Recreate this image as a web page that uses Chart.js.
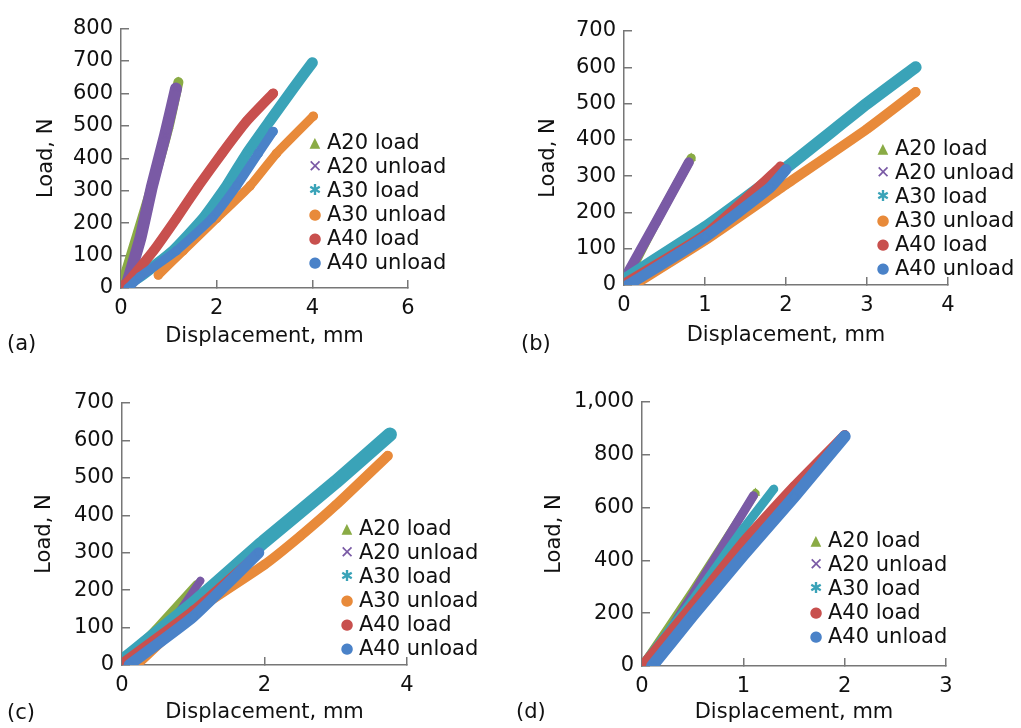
<!DOCTYPE html>
<html>
<head>
<meta charset="utf-8">
<script src="https://cdn.jsdelivr.net/npm/chart.js@4.4.0/dist/chart.umd.min.js"></script>
<style>
  body { margin: 0; background: #fff; width: 1021px; height: 728px; position: relative; overflow: hidden; font-family: "DejaVu Sans", sans-serif; }
  canvas { position: absolute; }
  .legend { position: absolute; font-size: 21px; color: #111; line-height: 24px; }
  .legend div { position: relative; white-space: nowrap; }
  .legend span.mk { position: absolute; width: 16px; text-align: center; }
  .tag { position: absolute; font-size: 21px; color: #111; }
</style>
</head>
<body>
<canvas id="chartA" width="500" height="365" style="left:0;top:0"></canvas>
<canvas id="chartB" width="521" height="365" style="left:500px;top:0"></canvas>
<canvas id="chartC" width="500" height="363" style="left:0;top:365px"></canvas>
<canvas id="chartD" width="521" height="363" style="left:500px;top:365px"></canvas>
<div class="tag" style="left:7px;top:331px">(a)</div>
<div class="tag" style="left:521px;top:331px">(b)</div>
<div class="tag" style="left:7px;top:700px">(c)</div>
<div class="tag" style="left:516px;top:699px">(d)</div>
<div class="legend" id="legA" style="left:307px;top:130px"></div>
<div class="legend" id="legB" style="left:875px;top:136px"></div>
<div class="legend" id="legC" style="left:339px;top:516px"></div>
<div class="legend" id="legD" style="left:808px;top:528px"></div>
<script>
// series names, colours and markers
const names = ['A20 load', 'A20 unload', 'A30 load', 'A30 unload', 'A40 load', 'A40 unload'];
const colors = ['#8aab45', '#7a5aa5', '#3aa3b8', '#e88a3a', '#c8504e', '#4a82c8'];
const markers = ['triangle', 'crossRot', 'star', 'circle', 'circle', 'circle'];
const legendGlyphs = ['\u25B2', '\u2715', '\u2731', '\u25CF', '\u25CF', '\u25CF'];

// (a) displacement mm, load N
const a_A20load = [[0, 0], [0.35, 170], [0.7, 340], [1.0, 500], [1.2, 635]];
const a_A20unload = [[0.1, 0], [0.4, 150], [0.65, 315], [0.92, 470], [1.15, 615]];
const a_A30load = [[0, 0], [0.4, 35], [1.09, 115], [1.72, 215], [2.21, 315], [2.63, 415], [3.11, 515], [3.6, 615], [4.0, 695]];
const a_A30unload = [[0.78, 40], [1.3, 115], [2.0, 215], [2.7, 315], [3.25, 415], [4.02, 530]];
const a_A40load = [[0, 5], [0.12, 15], [0.68, 115], [1.16, 215], [1.62, 315], [2.11, 415], [2.63, 515], [3.18, 600]];
const a_A40unload = [[0.15, 0], [0.4, 35], [1.16, 115], [1.9, 215], [2.42, 315], [2.87, 415], [3.18, 483]];

// (b)
const b_A20load = [[0, 0], [0.4, 175], [0.83, 350]];
const b_A20unload = [[0, 15], [0.4, 175], [0.8, 338]];
const b_A30load = [[0, 15], [1, 159], [2, 323], [3, 500], [3.6, 600]];
const b_A30unload = [[0.12, 0], [1, 123], [2, 277], [3, 430], [3.6, 532]];
const b_A40load = [[0, 5], [1, 141], [1.93, 327]];
const b_A40unload = [[0.05, 0], [1, 132], [1.8, 268], [2.0, 318]];

// (c)
const c_A20load = [[0, 0], [0.5, 100], [1.05, 215]];
const c_A20unload = [[0.23, 0], [0.65, 100], [1.1, 225]];
const c_A30load = [[0, 10], [1, 164], [2, 331], [3, 489], [3.76, 616]];
const c_A30unload = [[0.2, 0], [1, 140], [2, 268], [2.5, 344], [3, 427], [3.73, 559]];
const c_A40load = [[0, 5], [1, 146], [1.87, 291]];
const c_A40unload = [[0.1, 0], [1, 129], [1.92, 300]];

// (d) - no A30 unload here
const d_A20load = [[0, 0], [0.5, 285], [1.12, 655]];
const d_A20unload = [[0.05, 0], [0.5, 270], [1.1, 645]];
const d_A30load = [[0, 0], [0.5, 250], [1, 520], [1.3, 670]];
const d_A40load = [[0, 0], [0.5, 230], [1, 470], [1.5, 680], [2, 875]];
const d_A40unload = [[0.1, 0], [0.5, 190], [1, 420], [1.5, 640], [2, 870]];

// axis ranges [min, max, step]
const aX = [0, 6, 2], aY = [0, 800, 100];
const bX = [0, 4, 1], bY = [0, 700, 100];
const cX = [0, 4, 2], cY = [0, 700, 100];
const dX = [0, 3, 1], dY = [0, 1000, 200];

const font = {family: '"DejaVu Sans", sans-serif', size: 21};
const ink = '#111';
const axisGrey = '#777';

function makeAxis(range, title, fitFn, titlePad) {
  return {
    type: 'linear',
    min: range[0], max: range[1],
    ticks: {stepSize: range[2], color: ink, font: font, padding: 16},
    grid: {drawOnChartArea: false, drawTicks: true, tickLength: -8, color: axisGrey, lineWidth: 1.5},
    border: {display: true, color: axisGrey, width: 1.5},
    title: {display: true, text: title, color: ink, font: font, padding: titlePad},
    afterFit: fitFn
  };
}

// box = [chartArea left, top, right, bottom] in canvas px, pads = [y title gap, x title gap]
function makePanel(id, box, pads, xRange, yRange, series, seriesIdx, lineW) {
  const cv = document.getElementById(id);
  const w = cv.width, h = cv.height;
  const datasets = series.map((pts, k) => {
    const i = seriesIdx[k];
    return {
      label: names[i],
      data: pts.map(p => ({x: p[0], y: p[1]})),
      showLine: true,
      borderColor: colors[i],
      backgroundColor: colors[i],
      borderWidth: lineW[k],
      borderCapStyle: 'round',
      borderJoinStyle: 'round',
      tension: 0.15,
      pointStyle: markers[i],
      pointRadius: 4,
      pointBorderWidth: 1.5,
      pointBorderColor: colors[i],
      pointBackgroundColor: colors[i],
      order: 10 - k
    };
  });
  new Chart(cv, {
    type: 'scatter',
    data: {datasets: datasets},
    options: {
      responsive: false,
      animation: false,
      layout: {padding: {left: 0, top: box[1], right: w - box[2], bottom: 0}},
      plugins: {legend: {display: false}, tooltip: {enabled: false}},
      scales: {
        x: makeAxis(xRange, 'Displacement, mm', s => { s.height = h - box[3]; }, {top: 0, bottom: pads[1]}),
        y: makeAxis(yRange, 'Load, N', s => { s.width = box[0]; }, {top: pads[0], bottom: 0})
      }
    }
  });
}

function makeLegend(id, seriesIdx) {
  const el = document.getElementById(id);
  seriesIdx.forEach(i => {
    const row = document.createElement('div');
    const mk = document.createElement('span');
    mk.className = 'mk';
    mk.style.color = colors[i];
    mk.style.fontSize = i === 0 ? '14px' : (i === 1 ? '17px' : '15px');
    mk.textContent = legendGlyphs[i];
    const tx = document.createElement('span');
    tx.style.marginLeft = '20px';
    tx.textContent = names[i];
    row.appendChild(mk);
    row.appendChild(tx);
    el.appendChild(row);
  });
}

const all6 = [0, 1, 2, 3, 4, 5];
makePanel('chartA', [121, 21, 408, 288], [34, 16], aX, aY,
  [a_A20load, a_A20unload, a_A30load, a_A30unload, a_A40load, a_A40unload], all6, [10, 12, 11, 9, 10, 9]);
makePanel('chartB', [124, 31, 448, 285], [36, 17], bX, bY,
  [b_A20load, b_A20unload, b_A30load, b_A30unload, b_A40load, b_A40unload], all6, [9, 10, 12, 10, 9, 11]);
makePanel('chartC', [122, 38, 407, 300], [32, 3], cX, cY,
  [c_A20load, c_A20unload, c_A30load, c_A30unload, c_A40load, c_A40unload], all6, [9, 8, 14, 10, 9, 11]);
makePanel('chartD', [142, 37, 446, 301], [42, 3], dX, dY,
  [d_A20load, d_A20unload, d_A30load, d_A40load, d_A40unload], [0, 1, 2, 4, 5], [8, 9, 9, 10, 12]);

makeLegend('legA', all6);
makeLegend('legB', all6);
makeLegend('legC', all6);
makeLegend('legD', [0, 1, 2, 4, 5]);
</script>
</body>
</html>
